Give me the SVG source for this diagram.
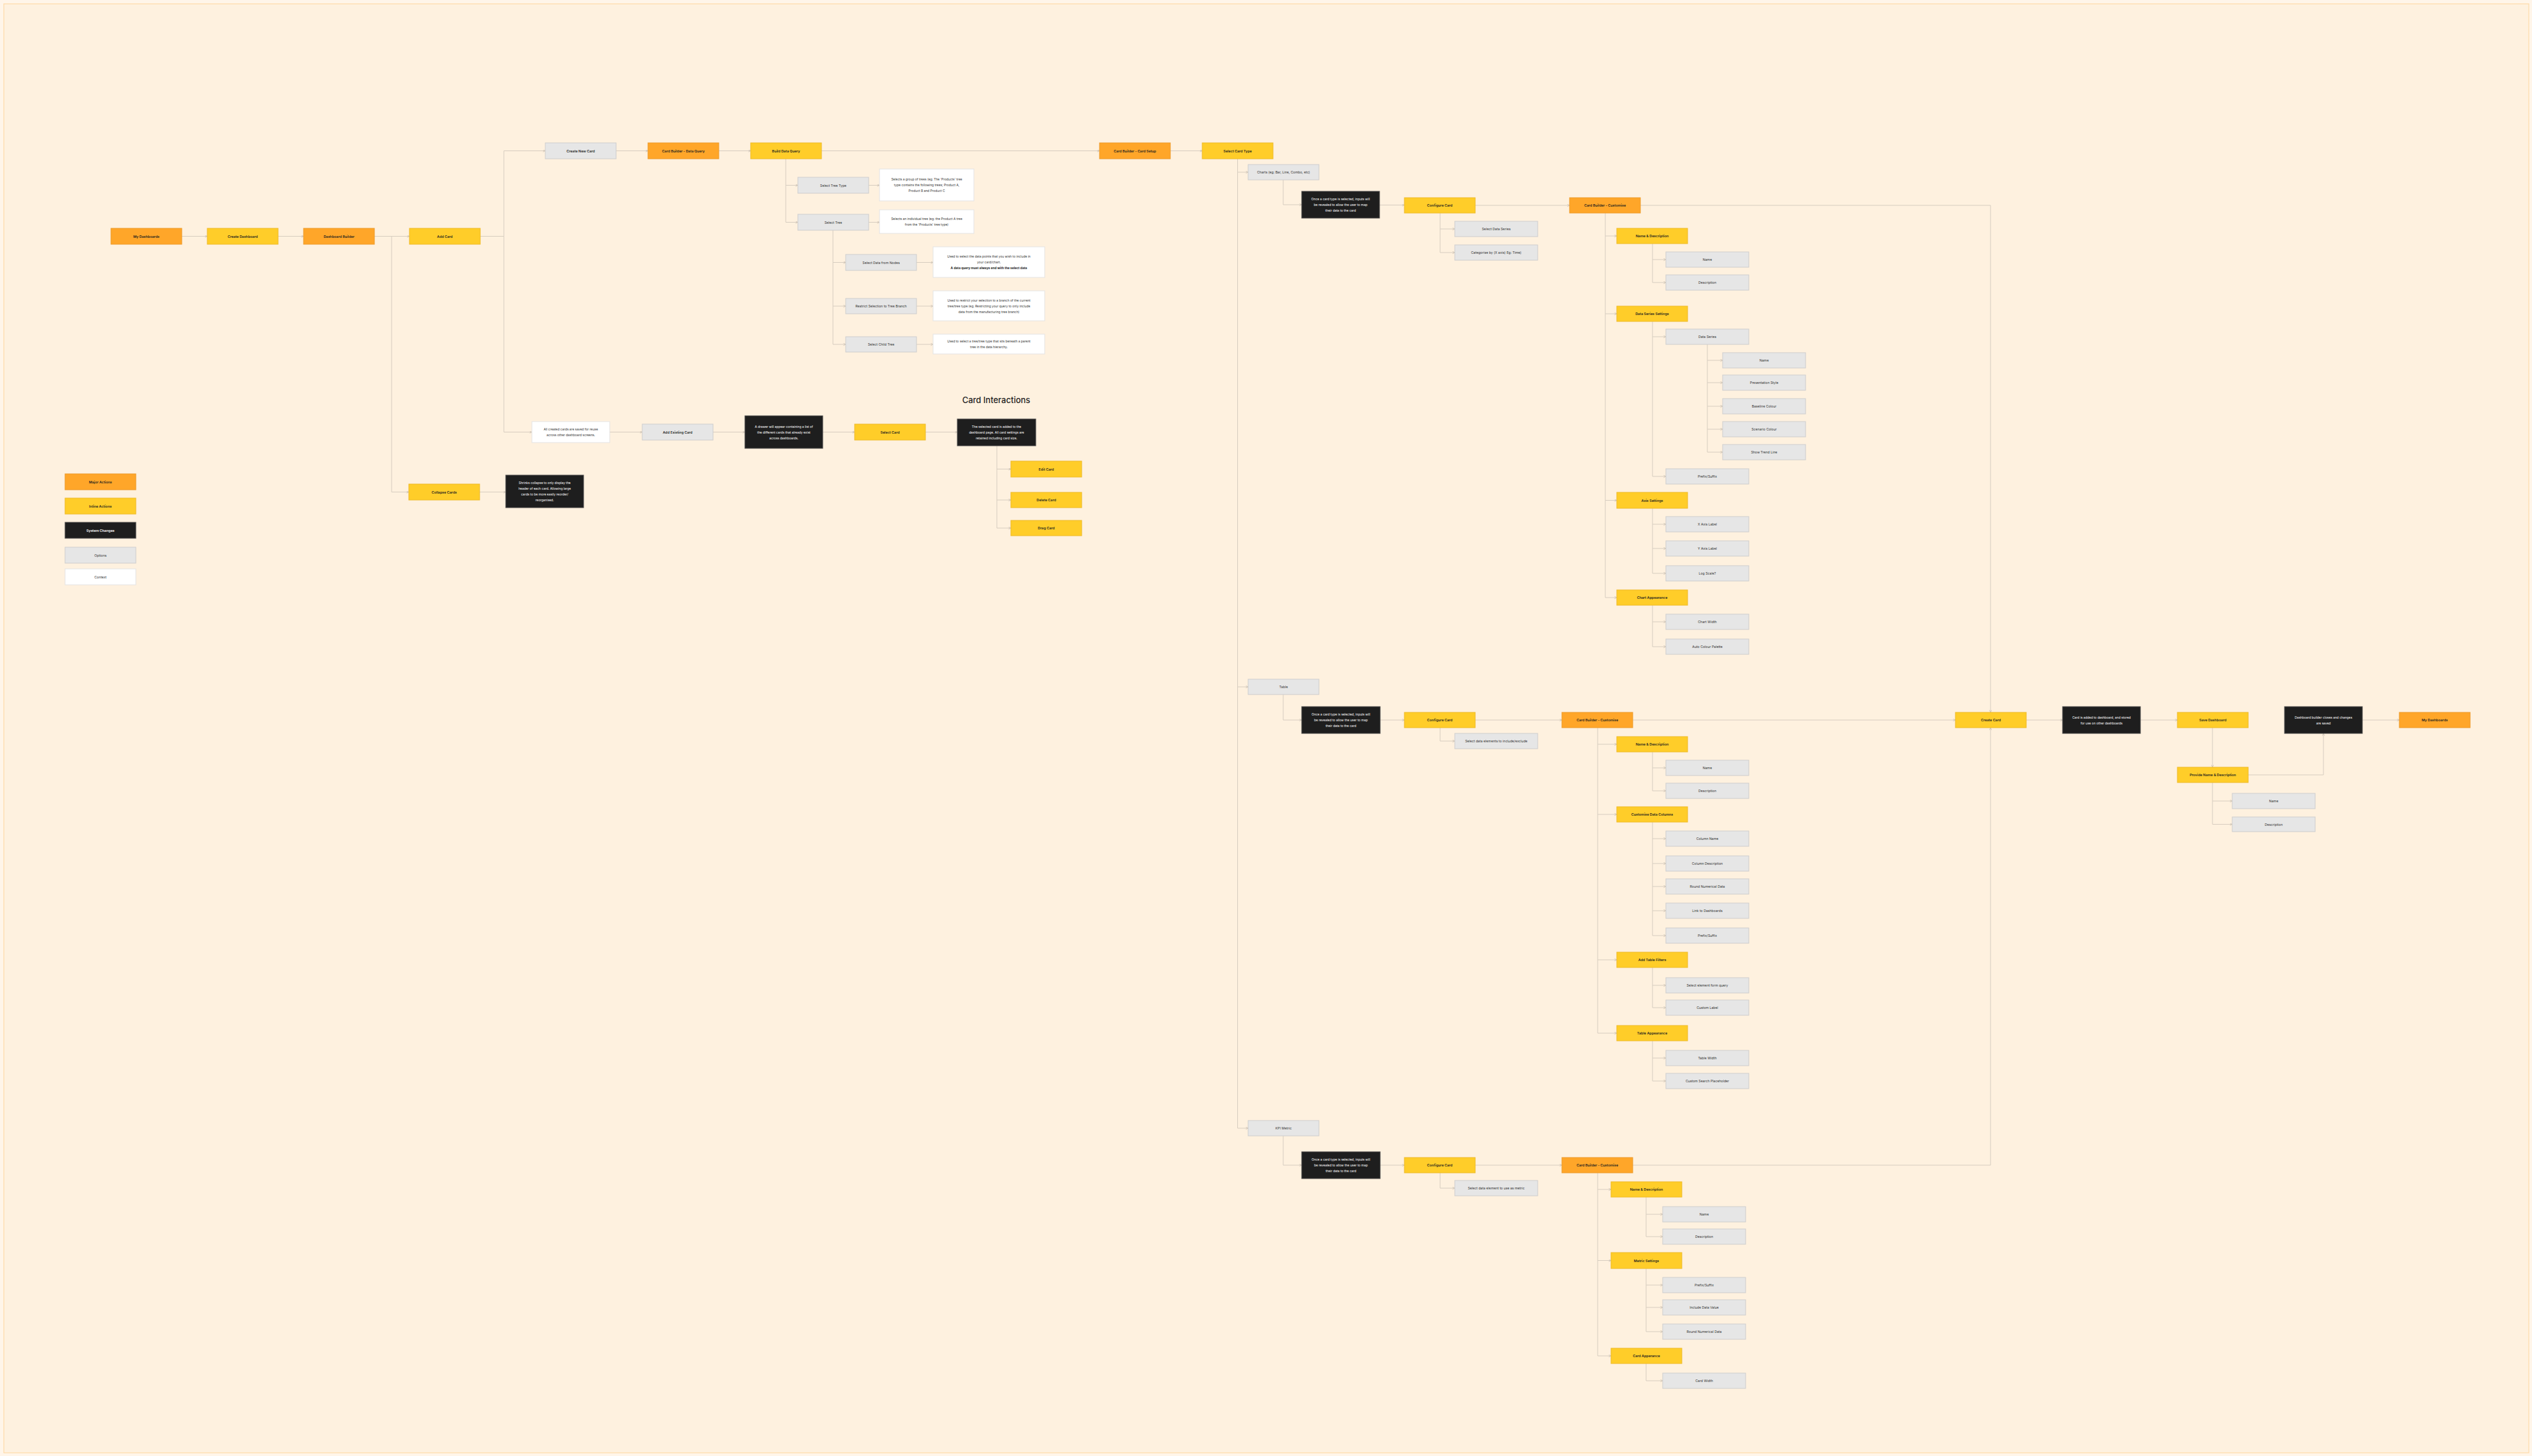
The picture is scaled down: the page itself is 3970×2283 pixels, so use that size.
<svg xmlns="http://www.w3.org/2000/svg" width="3970" height="2283" viewBox="0 0 3970 2283">
<defs>
<style>
.o{fill:#FFA629;stroke:#EC9A2A;stroke-width:1}
.y{fill:#FFCD29;stroke:#EDBA28;stroke-width:1}
.k{fill:#1E1E1E;stroke:#4a4a4a;stroke-width:1}
.g{fill:#E6E6E6;stroke:#CDCDCD;stroke-width:1}
.w{fill:#FFFFFF;stroke:#E3E3E3;stroke-width:1}
text{font-family:Inter,"Liberation Sans",sans-serif;text-anchor:middle;dominant-baseline:central}
.b{font-size:5.4px;font-weight:600;fill:#1E1E1E}
.r{font-size:5.2px;font-weight:400;fill:#333333}
.n{font-size:4.9px;font-weight:400;fill:#FFFFFF}
.c{font-size:4.9px;font-weight:400;fill:#333333}
.cb{font-size:4.9px;font-weight:700;fill:#1E1E1E}
.ttl{font-size:13px;font-weight:500;fill:#1E1E1E}
.l{fill:none;stroke:#D6CCBF;stroke-width:1;marker-end:url(#a)}
.l0{fill:none;stroke:#D6CCBF;stroke-width:1}
</style>
<marker id="a" markerWidth="5" markerHeight="5" refX="4" refY="2" orient="auto" markerUnits="userSpaceOnUse"><path d="M0.5,0.3 L4,2 L0.5,3.7" fill="none" stroke="#C9BEAF" stroke-width="0.8"/></marker>
</defs>
<rect x="0" y="0" width="3970" height="2283" fill="#FFF5E9"/>
<rect x="6" y="6" width="3959" height="2272" fill="#FEF1DF" stroke="#FFD69C" stroke-width="1"/>

<g id="connectors">
<path class="l" d="M285,370.5 H325"/>
<path class="l" d="M436,370.5 H476"/>
<path class="l" d="M587,370.5 H642"/>
<path class="l" d="M614,370.5 V771.5 H641"/>
<path class="l" d="M753,370.5 H790 V236.5 H855"/>
<path class="l" d="M790,370.5 V677.5 H834"/>
<path class="l" d="M966,236.5 H1016"/>
<path class="l" d="M1127,236.5 H1177"/>
<path class="l" d="M1288,236.5 H1724"/>
<path class="l" d="M1835,236.5 H1885"/>
<path class="l" d="M1232,249 V290.5 H1251"/>
<path class="l" d="M1232,290.5 V348.5 H1251"/>
<path class="l" d="M1362,290.5 H1379"/>
<path class="l" d="M1362,348.5 H1379"/>
<path class="l" d="M1306,361 V411.5 H1326"/>
<path class="l" d="M1306,411.5 V480 H1326"/>
<path class="l" d="M1306,480 V540 H1326"/>
<path class="l" d="M1437,411.5 H1463"/>
<path class="l" d="M1437,480 H1463"/>
<path class="l" d="M1437,540 H1463"/>
<path class="l" d="M956,677.5 H1007"/>
<path class="l" d="M1118,677.5 H1168"/>
<path class="l" d="M1290,677.5 H1340"/>
<path class="l" d="M1451,677.5 H1501"/>
<path class="l" d="M1563,699 V735.5 H1585"/>
<path class="l" d="M1563,735.5 V784 H1585"/>
<path class="l" d="M1563,784 V828 H1585"/>
<path class="l" d="M752,771.5 H793"/>
<path class="l" d="M1940.5,249 V270 H1957"/>
<path class="l" d="M1940.5,270 V1077 H1957"/>
<path class="l" d="M1940.5,1077 V1769 H1957"/>
<path class="l" d="M2012,282 V321 H2041"/>
<path class="l" d="M2163,321.5 H2202"/>
<path class="l" d="M2313,322 H2461"/>
<path class="l" d="M2572,322 H3121 V1117"/>
<path class="l" d="M2258,334 V359 H2281"/>
<path class="l" d="M2258,359 V396 H2281"/>
<path class="l" d="M2517,334 V370 H2535"/>
<path class="l" d="M2517,370 V492 H2535"/>
<path class="l" d="M2517,492 V784.5 H2535"/>
<path class="l" d="M2517,784.5 V937 H2535"/>
<path class="l" d="M2591,382 V407 H2612"/>
<path class="l" d="M2591,407 V443 H2612"/>
<path class="l" d="M2591,504 V528 H2612"/>
<path class="l" d="M2591,528 V747 H2612"/>
<path class="l" d="M2677,540 V565 H2701"/>
<path class="l" d="M2677,565 V600 H2701"/>
<path class="l" d="M2677,600 V637 H2701"/>
<path class="l" d="M2677,637 V673 H2701"/>
<path class="l" d="M2677,673 V709 H2701"/>
<path class="l" d="M2591,797 V822 H2612"/>
<path class="l" d="M2591,822 V860 H2612"/>
<path class="l" d="M2591,860 V899 H2612"/>
<path class="l" d="M2591,949 V975 H2612"/>
<path class="l" d="M2591,975 V1014 H2612"/>
<path class="l" d="M2012,1089 V1129 H2041"/>
<path class="l" d="M2164,1129 H2202"/>
<path class="l" d="M2313,1129 H2449"/>
<path class="l" d="M2560,1129 H3066"/>
<path class="l" d="M2258,1141 V1162 H2281"/>
<path class="l" d="M2505,1141 V1167 H2535"/>
<path class="l" d="M2505,1167 V1277 H2535"/>
<path class="l" d="M2505,1277 V1505 H2535"/>
<path class="l" d="M2505,1505 V1620 H2535"/>
<path class="l" d="M2591,1179 V1204 H2612"/>
<path class="l" d="M2591,1204 V1240 H2612"/>
<path class="l" d="M2591,1289 V1315 H2612"/>
<path class="l" d="M2591,1315 V1354 H2612"/>
<path class="l" d="M2591,1354 V1390 H2612"/>
<path class="l" d="M2591,1390 V1428 H2612"/>
<path class="l" d="M2591,1428 V1467 H2612"/>
<path class="l" d="M2591,1517 V1545 H2612"/>
<path class="l" d="M2591,1545 V1580 H2612"/>
<path class="l" d="M2591,1632 V1659 H2612"/>
<path class="l" d="M2591,1659 V1695 H2612"/>
<path class="l" d="M2012,1781 V1827 H2041"/>
<path class="l" d="M2164,1827 H2202"/>
<path class="l" d="M2313,1827 H2449"/>
<path class="l" d="M2560,1827 H3121 V1141"/>
<path class="l" d="M2258,1839 V1863 H2281"/>
<path class="l" d="M2505,1839 V1865 H2526"/>
<path class="l" d="M2505,1865 V1976.5 H2526"/>
<path class="l" d="M2505,1976.5 V2126 H2526"/>
<path class="l" d="M2581,1877 V1904 H2607"/>
<path class="l" d="M2581,1904 V1939 H2607"/>
<path class="l" d="M2581,1989 V2015 H2607"/>
<path class="l" d="M2581,2015 V2050 H2607"/>
<path class="l" d="M2581,2050 V2088 H2607"/>
<path class="l" d="M2581,2138 V2165 H2607"/>
<path class="l" d="M3177,1129 H3234"/>
<path class="l" d="M3356,1129 H3414"/>
<path class="l" d="M3469,1141 V1203"/>
<path class="l" d="M3525,1215 H3643 V1150"/>
<path class="l" d="M3704,1129 H3762"/>
<path class="l" d="M3469,1227 V1256 H3500"/>
<path class="l" d="M3469,1256 V1292.5 H3500"/>
</g>

<g id="legend">
<g id="leg-major"><rect class="o" x="102" y="743" width="111" height="25"/><text class="b" x="157.5" y="755.5">Major Actions</text></g>
<g id="leg-inline"><rect class="y" x="102" y="781" width="111" height="25"/><text class="b" x="157.5" y="793.5">Inline Actions</text></g>
<g id="leg-system"><rect class="k" x="102" y="819" width="111" height="25"/><text class="b" x="157.5" y="831.5" fill="#FFFFFF" style="fill:#FFFFFF">System Changes</text></g>
<g id="leg-options"><rect class="g" x="102" y="858" width="111" height="25"/><text class="r" x="157.5" y="870.5">Options</text></g>
<g id="leg-context"><rect class="w" x="102" y="892" width="111" height="25"/><text class="r" x="157.5" y="904.5">Context</text></g>
</g>

<g id="n-mydash"><rect class="o" x="174" y="358" width="111" height="25"/><text class="b" x="229.5" y="370.5">My Dashboards</text></g>
<g id="n-createdash"><rect class="y" x="325" y="358" width="111" height="25"/><text class="b" x="380.5" y="370.5">Create Dashboard</text></g>
<g id="n-dashbuilder"><rect class="o" x="476" y="358" width="111" height="25"/><text class="b" x="531.5" y="370.5">Dashboard Builder</text></g>
<g id="n-addcard"><rect class="y" x="642" y="358" width="111" height="25"/><text class="b" x="697.5" y="370.5">Add Card</text></g>
<g id="n-collapse"><rect class="y" x="641" y="759" width="111" height="25"/><text class="b" x="696.5" y="771.5">Collapse Cards</text></g>
<g id="n-collapse-note"><rect class="k" x="793" y="745" width="122" height="51"/><text class="n" x="854"><tspan x="854" y="757">Shrinks collapse to only display the</tspan><tspan x="854" y="766">header of each card. Allowing large</tspan><tspan x="854" y="775">cards to be more easily reorder/</tspan><tspan x="854" y="784">reorganised.</tspan></text></g>

<g id="n-createnew"><rect class="g" x="855" y="224" width="111" height="25"/><text class="b" x="910.5" y="236.5">Create New Card</text></g>
<g id="n-cbdq"><rect class="o" x="1016" y="224" width="111" height="25"/><text class="b" x="1071.5" y="236.5">Card Builder - Data Query</text></g>
<g id="n-bdq"><rect class="y" x="1177" y="224" width="111" height="25"/><text class="b" x="1232.5" y="236.5">Build Data Query</text></g>
<g id="n-stt"><rect class="g" x="1251" y="278" width="111" height="25"/><text class="r" x="1306.5" y="290.5">Select Tree Type</text></g>
<g id="n-stt-ctx"><rect class="w" x="1379" y="265" width="148" height="50"/><text class="c" x="1453"><tspan x="1453" y="281">Selects a group of trees (eg: The 'Products' tree</tspan><tspan x="1453" y="290">type contains the following trees; Product A,</tspan><tspan x="1453" y="299">Product B and Product C</tspan></text></g>
<g id="n-st"><rect class="g" x="1251" y="336" width="111" height="25"/><text class="r" x="1306.5" y="348.5">Select Tree</text></g>
<g id="n-st-ctx"><rect class="w" x="1379" y="329" width="148" height="37"/><text class="c" x="1453"><tspan x="1453" y="343">Selects an individual tree (eg: the Product A tree</tspan><tspan x="1453" y="352">from the 'Products' tree type)</tspan></text></g>
<g id="n-sdn"><rect class="g" x="1326" y="399" width="111" height="25"/><text class="r" x="1381.5" y="411.5">Select Data from Nodes</text></g>
<g id="n-sdn-ctx"><rect class="w" x="1463" y="387" width="175" height="48"/><text class="c" x="1550.5"><tspan x="1550.5" y="402">Used to select the data points that you wish to include in</tspan><tspan x="1550.5" y="411">your card/chart.</tspan></text><text class="cb" x="1550.5" y="420">A data query must always end with the select data</text></g>
<g id="n-rst"><rect class="g" x="1326" y="468" width="111" height="24"/><text class="r" x="1381.5" y="480">Restrict Selection to Tree Branch</text></g>
<g id="n-rst-ctx"><rect class="w" x="1463" y="456" width="175" height="47"/><text class="c" x="1550.5"><tspan x="1550.5" y="470.5">Used to restrict your selection to a branch of the current</tspan><tspan x="1550.5" y="479.5">tree/tree type (eg: Restricting your query to only include</tspan><tspan x="1550.5" y="488.5">data from the manufacturing tree branch)</tspan></text></g>
<g id="n-sct"><rect class="g" x="1326" y="528" width="111" height="24"/><text class="r" x="1381.5" y="540">Select Child Tree</text></g>
<g id="n-sct-ctx"><rect class="w" x="1463" y="524" width="175" height="31"/><text class="c" x="1550.5"><tspan x="1550.5" y="535">Used to select a tree/tree type that sits beneath a parent</tspan><tspan x="1550.5" y="544">tree in the data hierarchy.</tspan></text></g>

<g id="n-allcards"><rect class="w" x="834" y="661" width="122" height="33"/><text class="c" x="895"><tspan x="895" y="673">All created cards are saved for reuse</tspan><tspan x="895" y="682">across other dashboard screens.</tspan></text></g>
<g id="n-addexisting"><rect class="g" x="1007" y="665" width="111" height="25"/><text class="b" x="1062.5" y="677.5">Add Existing Card</text></g>
<g id="n-drawer"><rect class="k" x="1168" y="652" width="122" height="51"/><text class="n" x="1229"><tspan x="1229" y="668.5">A drawer will appear containing a list of</tspan><tspan x="1229" y="677.5">the different cards that already exist</tspan><tspan x="1229" y="686.5">across dashboards.</tspan></text></g>
<g id="n-selectcard"><rect class="y" x="1340" y="665" width="111" height="25"/><text class="b" x="1395.5" y="677.5">Select Card</text></g>
<g id="n-added"><rect class="k" x="1501" y="657" width="123" height="42"/><text class="n" x="1562.5"><tspan x="1562.5" y="669">The selected card is added to the</tspan><tspan x="1562.5" y="678">dashboard page. All card settings are</tspan><tspan x="1562.5" y="687">retained including card size.</tspan></text></g>
<text class="ttl" x="1562" y="627">Card Interactions</text>
<g id="n-edit"><rect class="y" x="1585" y="723" width="111" height="25"/><text class="b" x="1640.5" y="735.5">Edit Card</text></g>
<g id="n-delete"><rect class="y" x="1585" y="772" width="111" height="24"/><text class="b" x="1640.5" y="784">Delete Card</text></g>
<g id="n-drag"><rect class="y" x="1585" y="816" width="111" height="24"/><text class="b" x="1640.5" y="828">Drag Card</text></g>

<g id="n-cardsetup"><rect class="o" x="1724" y="224" width="111" height="25"/><text class="b" x="1779.5" y="236.5">Card Builder - Card Setup</text></g>
<g id="n-selecttype"><rect class="y" x="1885" y="224" width="111" height="25"/><text class="b" x="1940.5" y="236.5">Select Card Type</text></g>

<g id="n-charts"><rect class="g" x="1957" y="258" width="111" height="24"/><text class="r" x="2012.5" y="270">Charts (eg: Bar, Line, Combo, etc)</text></g>
<g id="n-charts-note"><rect class="k" x="2041" y="300" width="122" height="42"/><text class="n" x="2102"><tspan x="2102" y="312">Once a card type is selected, inputs will</tspan><tspan x="2102" y="321">be revealed to allow the user to map</tspan><tspan x="2102" y="330">their data to the card</tspan></text></g>
<g id="n-charts-config"><rect class="y" x="2202" y="310" width="111" height="24"/><text class="b" x="2257.5" y="322">Configure Card</text></g>
<g id="n-charts-sds"><rect class="g" x="2281" y="347" width="130" height="24"/><text class="r" x="2346" y="359">Select Data Series</text></g>
<g id="n-charts-cat"><rect class="g" x="2281" y="384" width="130" height="24"/><text class="r" x="2346" y="396">Categorise by (X axis) Eg: Time)</text></g>
<g id="n-charts-cust"><rect class="o" x="2461" y="310" width="111" height="24"/><text class="b" x="2516.5" y="322">Card Builder - Customise</text></g>
<g id="n-charts-nd"><rect class="y" x="2535" y="358" width="111" height="24"/><text class="b" x="2590.5" y="370">Name &amp; Description</text></g>
<g id="n-charts-name"><rect class="g" x="2612" y="395" width="130" height="24"/><text class="r" x="2677" y="407">Name</text></g>
<g id="n-charts-desc"><rect class="g" x="2612" y="431" width="130" height="24"/><text class="r" x="2677" y="443">Description</text></g>
<g id="n-charts-dss"><rect class="y" x="2535" y="480" width="111" height="24"/><text class="b" x="2590.5" y="492">Data Series Settings</text></g>
<g id="n-charts-ds"><rect class="g" x="2612" y="516" width="130" height="24"/><text class="r" x="2677" y="528">Data Series</text></g>
<g id="n-ds-name"><rect class="g" x="2701" y="553" width="130" height="24"/><text class="r" x="2766" y="565">Name</text></g>
<g id="n-ds-style"><rect class="g" x="2701" y="588" width="130" height="24"/><text class="r" x="2766" y="600">Presentation Style</text></g>
<g id="n-ds-base"><rect class="g" x="2701" y="625" width="130" height="24"/><text class="r" x="2766" y="637">Baseline Colour</text></g>
<g id="n-ds-scen"><rect class="g" x="2701" y="661" width="130" height="24"/><text class="r" x="2766" y="673">Scenario Colour</text></g>
<g id="n-ds-trend"><rect class="g" x="2701" y="697" width="130" height="24"/><text class="r" x="2766" y="709">Show Trend Line</text></g>
<g id="n-charts-prefix"><rect class="g" x="2612" y="735" width="130" height="24"/><text class="r" x="2677" y="747">Prefix/Suffix</text></g>
<g id="n-charts-axis"><rect class="y" x="2535" y="772" width="111" height="25"/><text class="b" x="2590.5" y="784.5">Axis Settings</text></g>
<g id="n-axis-x"><rect class="g" x="2612" y="810" width="130" height="24"/><text class="r" x="2677" y="822">X Axis Label</text></g>
<g id="n-axis-y"><rect class="g" x="2612" y="848" width="130" height="24"/><text class="r" x="2677" y="860">Y Axis Label</text></g>
<g id="n-axis-log"><rect class="g" x="2612" y="887" width="130" height="24"/><text class="r" x="2677" y="899">Log Scale?</text></g>
<g id="n-charts-app"><rect class="y" x="2535" y="925" width="111" height="24"/><text class="b" x="2590.5" y="937">Chart Appearance</text></g>
<g id="n-app-width"><rect class="g" x="2612" y="963" width="130" height="24"/><text class="r" x="2677" y="975">Chart Width</text></g>
<g id="n-app-palette"><rect class="g" x="2612" y="1002" width="130" height="24"/><text class="r" x="2677" y="1014">Auto Colour Palette</text></g>

<g id="n-table"><rect class="g" x="1957" y="1065" width="111" height="24"/><text class="r" x="2012.5" y="1077">Table</text></g>
<g id="n-table-note"><rect class="k" x="2041" y="1108" width="123" height="42"/><text class="n" x="2102.5"><tspan x="2102.5" y="1120">Once a card type is selected, inputs will</tspan><tspan x="2102.5" y="1129">be revealed to allow the user to map</tspan><tspan x="2102.5" y="1138">their data to the card</tspan></text></g>
<g id="n-table-config"><rect class="y" x="2202" y="1117" width="111" height="24"/><text class="b" x="2257.5" y="1129">Configure Card</text></g>
<g id="n-table-sel"><rect class="g" x="2281" y="1150" width="130" height="24"/><text class="r" x="2346" y="1162">Select data elements to include/exclude</text></g>
<g id="n-table-cust"><rect class="o" x="2449" y="1117" width="111" height="24"/><text class="b" x="2504.5" y="1129">Card Builder - Customise</text></g>
<g id="n-table-nd"><rect class="y" x="2535" y="1155" width="111" height="24"/><text class="b" x="2590.5" y="1167">Name &amp; Description</text></g>
<g id="n-table-name"><rect class="g" x="2612" y="1192" width="130" height="24"/><text class="r" x="2677" y="1204">Name</text></g>
<g id="n-table-desc"><rect class="g" x="2612" y="1228" width="130" height="24"/><text class="r" x="2677" y="1240">Description</text></g>
<g id="n-table-cdc"><rect class="y" x="2535" y="1265" width="111" height="24"/><text class="b" x="2590.5" y="1277">Customise Data Columns</text></g>
<g id="n-col-name"><rect class="g" x="2612" y="1303" width="130" height="24"/><text class="r" x="2677" y="1315">Column Name</text></g>
<g id="n-col-desc"><rect class="g" x="2612" y="1342" width="130" height="24"/><text class="r" x="2677" y="1354">Column Description</text></g>
<g id="n-col-round"><rect class="g" x="2612" y="1378" width="130" height="24"/><text class="r" x="2677" y="1390">Round Numerical Data</text></g>
<g id="n-col-link"><rect class="g" x="2612" y="1416" width="130" height="24"/><text class="r" x="2677" y="1428">Link to Dashboards</text></g>
<g id="n-col-prefix"><rect class="g" x="2612" y="1455" width="130" height="24"/><text class="r" x="2677" y="1467">Prefix/Suffix</text></g>
<g id="n-table-filters"><rect class="y" x="2535" y="1493" width="111" height="24"/><text class="b" x="2590.5" y="1505">Add Table Filters</text></g>
<g id="n-filt-sel"><rect class="g" x="2612" y="1533" width="130" height="24"/><text class="r" x="2677" y="1545">Select element form query</text></g>
<g id="n-filt-label"><rect class="g" x="2612" y="1568" width="130" height="24"/><text class="r" x="2677" y="1580">Custom Label</text></g>
<g id="n-table-app"><rect class="y" x="2535" y="1608" width="111" height="24"/><text class="b" x="2590.5" y="1620">Table Appearance</text></g>
<g id="n-tapp-width"><rect class="g" x="2612" y="1647" width="130" height="24"/><text class="r" x="2677" y="1659">Table Width</text></g>
<g id="n-tapp-search"><rect class="g" x="2612" y="1683" width="130" height="24"/><text class="r" x="2677" y="1695">Custom Search Placeholder</text></g>

<g id="n-kpi"><rect class="g" x="1957" y="1757" width="111" height="24"/><text class="r" x="2012.5" y="1769">KPI Metric</text></g>
<g id="n-kpi-note"><rect class="k" x="2041" y="1806" width="123" height="42"/><text class="n" x="2102.5"><tspan x="2102.5" y="1818">Once a card type is selected, inputs will</tspan><tspan x="2102.5" y="1827">be revealed to allow the user to map</tspan><tspan x="2102.5" y="1836">their data to the card</tspan></text></g>
<g id="n-kpi-config"><rect class="y" x="2202" y="1815" width="111" height="24"/><text class="b" x="2257.5" y="1827">Configure Card</text></g>
<g id="n-kpi-sel"><rect class="g" x="2281" y="1851" width="130" height="24"/><text class="r" x="2346" y="1863">Select data element to use as metric</text></g>
<g id="n-kpi-cust"><rect class="o" x="2449" y="1815" width="111" height="24"/><text class="b" x="2504.5" y="1827">Card Builder - Customise</text></g>
<g id="n-kpi-nd"><rect class="y" x="2526" y="1853" width="111" height="24"/><text class="b" x="2581.5" y="1865">Name &amp; Description</text></g>
<g id="n-kpi-name"><rect class="g" x="2607" y="1892" width="130" height="24"/><text class="r" x="2672" y="1904">Name</text></g>
<g id="n-kpi-desc"><rect class="g" x="2607" y="1927" width="130" height="24"/><text class="r" x="2672" y="1939">Description</text></g>
<g id="n-kpi-metric"><rect class="y" x="2526" y="1964" width="111" height="25"/><text class="b" x="2581.5" y="1976.5">Metric Settings</text></g>
<g id="n-kpi-prefix"><rect class="g" x="2607" y="2003" width="130" height="24"/><text class="r" x="2672" y="2015">Prefix/Suffix</text></g>
<g id="n-kpi-include"><rect class="g" x="2607" y="2038" width="130" height="24"/><text class="r" x="2672" y="2050">Include Data Value</text></g>
<g id="n-kpi-round"><rect class="g" x="2607" y="2076" width="130" height="24"/><text class="r" x="2672" y="2088">Round Numerical Data</text></g>
<g id="n-kpi-app"><rect class="y" x="2526" y="2114" width="111" height="24"/><text class="b" x="2581.5" y="2126">Card Apperance</text></g>
<g id="n-kpi-width"><rect class="g" x="2607" y="2153" width="130" height="24"/><text class="r" x="2672" y="2165">Card Width</text></g>

<g id="n-createcard"><rect class="y" x="3066" y="1117" width="111" height="24"/><text class="b" x="3121.5" y="1129">Create Card</text></g>
<g id="n-created-note"><rect class="k" x="3234" y="1108" width="122" height="42"/><text class="n" x="3295"><tspan x="3295" y="1124.5">Card is added to dashboard, and stored</tspan><tspan x="3295" y="1133.5">for use on other dashboards</tspan></text></g>
<g id="n-save"><rect class="y" x="3414" y="1117" width="111" height="24"/><text class="b" x="3469.5" y="1129">Save Dashboard</text></g>
<g id="n-saved-note"><rect class="k" x="3582" y="1108" width="122" height="42"/><text class="n" x="3643"><tspan x="3643" y="1124.5">Dashboard builder closes and changes</tspan><tspan x="3643" y="1133.5">are saved</tspan></text></g>
<g id="n-mydash-end"><rect class="o" x="3762" y="1117" width="111" height="24"/><text class="b" x="3817.5" y="1129">My Dashboards</text></g>
<g id="n-provide"><rect class="y" x="3414" y="1203" width="111" height="24"/><text class="b" x="3469.5" y="1215">Provide Name &amp; Description</text></g>
<g id="n-provide-name"><rect class="g" x="3500" y="1244" width="130" height="24"/><text class="r" x="3565" y="1256">Name</text></g>
<g id="n-provide-desc"><rect class="g" x="3500" y="1281" width="130" height="23"/><text class="r" x="3565" y="1292.5">Description</text></g>
</svg>
